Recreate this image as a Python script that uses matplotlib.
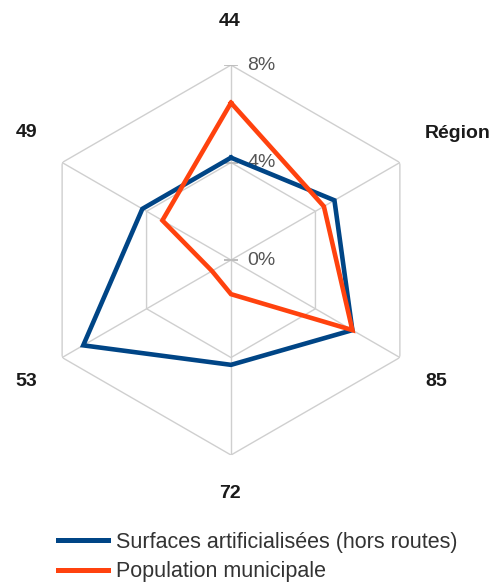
import numpy as np
import matplotlib
matplotlib.use("Agg")
import matplotlib.pyplot as plt
from matplotlib.lines import Line2D

plt.rcParams["font.family"] = ["Liberation Sans", "DejaVu Sans"]

categories = ["44", "Région", "85", "72", "53", "49"]
surfaces = [4.2, 4.9, 5.75, 4.3, 7.0, 4.2]
population = [6.45, 4.4, 5.75, 1.4, 0.9, 3.25]
series_names = ["Surfaces artificialisées (hors routes)", "Population municipale"]
ring_values = [0, 4, 8]
ring_labels = ["0%", "4%", "8%"]

blue = "#004586"
orange = "#ff420e"
grid_c = "#cfcfcf"

# label offsets (pixels) away from the outer ring vertices
label_offsets = [(-1, 44), (58, 29), (36, -24), (-1, -38), (-36, -24), (-36, 30)]

fig = plt.figure(figsize=(5.0, 5.86), dpi=100)
ax = fig.add_axes([0.072, 0.2235, 0.78, 0.6655], projection="polar")
ax.set_theta_offset(np.pi / 2)
ax.set_theta_direction(-1)
ax.set_ylim(0, 8)
ax.grid(False)
ax.spines["polar"].set_visible(False)
ax.set_xticks([])
ax.set_yticks([])
ax.patch.set_alpha(0)

n = len(categories)
theta = np.arange(n) * 2 * np.pi / n
closed = np.append(theta, theta[0])

# hexagonal rings and spokes
for rv in ring_values[1:]:
    ax.plot(closed, [rv] * (n + 1), color=grid_c, lw=1.0, zorder=1)
for t in theta:
    ax.plot([t, t], [0, ring_values[-1]], color=grid_c, lw=1.0, zorder=1)

# value axis ticks and labels
for rv, lab in zip(ring_values, ring_labels):
    ax.plot([0], [rv], marker="_", ms=10, mew=1.3, color="#bdbdbd", zorder=2)
    ax.annotate(lab, xy=(0, rv), xytext=(16, 0), textcoords="offset pixels",
                ha="left", va="center", fontsize=14, color="#555555", zorder=3)

ax.plot(closed, surfaces + surfaces[:1], color=blue, lw=3.3, zorder=4,
        solid_joinstyle="miter")
ax.plot(closed, population + population[:1], color=orange, lw=3.3, zorder=5,
        solid_joinstyle="miter")

# category labels
for t, c, off in zip(theta, categories, label_offsets):
    ax.annotate(c, xy=(t, ring_values[-1]), xytext=off, textcoords="offset pixels",
                ha="center", va="center", fontsize=14, fontweight="bold",
                color="#1a1a1a", annotation_clip=False)

handles = [Line2D([], [], color=blue, lw=3.6), Line2D([], [], color=orange, lw=3.6)]
fig.legend(handles, series_names, loc="upper left", bbox_to_anchor=(0.116, 0.093),
           frameon=False, fontsize=15.5, handlelength=2.3, handletextpad=0.4,
           labelspacing=0.4, borderpad=0, borderaxespad=0, labelcolor="#333333")

fig.savefig("out.png", dpi=100)
